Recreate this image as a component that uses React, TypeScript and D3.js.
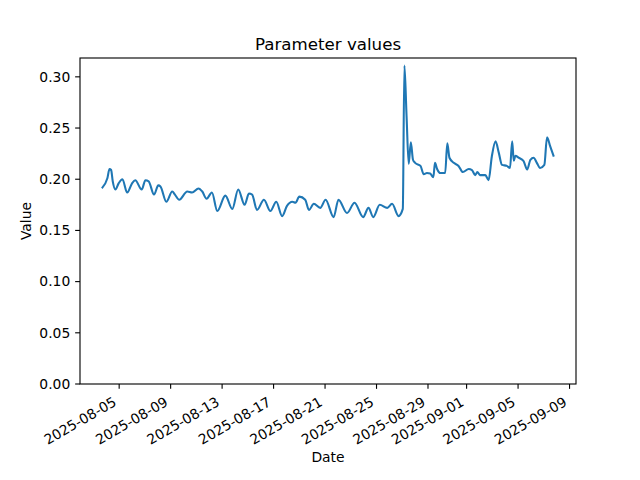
import React from 'react';
import * as d3 from 'd3';

const times: string[] = [
  '2025-08-03T17:00', '2025-08-04T02:00', '2025-08-04T06:00', '2025-08-04T09:00', '2025-08-04T12:00',
  '2025-08-04T17:00', '2025-08-04T23:00', '2025-08-05T06:00', '2025-08-05T15:00', '2025-08-06T00:00',
  '2025-08-06T06:00', '2025-08-06T18:00', '2025-08-07T01:00', '2025-08-07T07:00', '2025-08-07T17:00',
  '2025-08-08T01:00', '2025-08-08T05:00', '2025-08-08T16:00', '2025-08-09T03:00', '2025-08-09T08:00',
  '2025-08-09T16:00', '2025-08-10T07:00', '2025-08-10T16:00', '2025-08-11T04:00', '2025-08-11T11:00',
  '2025-08-11T19:00', '2025-08-12T05:00', '2025-08-12T15:00', '2025-08-13T06:00', '2025-08-13T19:00',
  '2025-08-14T06:00', '2025-08-14T18:00', '2025-08-15T02:00', '2025-08-15T08:00', '2025-08-15T17:00',
  '2025-08-16T06:00', '2025-08-16T18:00', '2025-08-17T05:00', '2025-08-17T16:00', '2025-08-18T01:00',
  '2025-08-18T11:00', '2025-08-18T17:00', '2025-08-19T00:00', '2025-08-19T11:00', '2025-08-19T18:00',
  '2025-08-20T03:00', '2025-08-20T15:00', '2025-08-21T01:00', '2025-08-21T16:00', '2025-08-22T01:00',
  '2025-08-22T17:00', '2025-08-23T07:00', '2025-08-23T23:00', '2025-08-24T09:00', '2025-08-24T18:00',
  '2025-08-25T06:00', '2025-08-25T20:00', '2025-08-26T05:00', '2025-08-26T17:00', '2025-08-27T01:00',
  '2025-08-27T04:00', '2025-08-27T08:00', '2025-08-27T12:00', '2025-08-27T16:00', '2025-08-27T20:00',
  '2025-08-28T00:00', '2025-08-28T10:00', '2025-08-28T16:00', '2025-08-28T22:00', '2025-08-29T04:00',
  '2025-08-29T10:00', '2025-08-29T13:00', '2025-08-29T17:00', '2025-08-29T23:00', '2025-08-30T08:00',
  '2025-08-30T12:00', '2025-08-30T16:00', '2025-08-31T00:00', '2025-08-31T09:00', '2025-08-31T17:00',
  '2025-09-01T04:00', '2025-09-01T10:00', '2025-09-01T16:00', '2025-09-01T20:00', '2025-09-02T01:00',
  '2025-09-02T11:00', '2025-09-02T17:00', '2025-09-02T23:00', '2025-09-03T06:00', '2025-09-03T12:00',
  '2025-09-03T18:00', '2025-09-04T03:00', '2025-09-04T09:00', '2025-09-04T13:00', '2025-09-04T16:00',
  '2025-09-04T19:00', '2025-09-05T01:00', '2025-09-05T10:00', '2025-09-05T17:00', '2025-09-05T23:00',
  '2025-09-06T05:00', '2025-09-06T11:00', '2025-09-06T17:00', '2025-09-07T01:00', '2025-09-07T06:00',
  '2025-09-07T12:00', '2025-09-07T18:00',
];

const values: number[] = [
  0.192, 0.201, 0.210, 0.209, 0.198,
  0.190, 0.196, 0.200, 0.187, 0.196,
  0.199, 0.190, 0.199, 0.198, 0.185,
  0.194, 0.193, 0.178, 0.188, 0.185,
  0.180, 0.188, 0.187, 0.191, 0.188,
  0.181, 0.187, 0.169, 0.184, 0.171,
  0.190, 0.175, 0.186, 0.185, 0.170,
  0.180, 0.169, 0.178, 0.164, 0.174,
  0.178, 0.177, 0.183, 0.180, 0.170,
  0.176, 0.172, 0.180, 0.163, 0.180,
  0.167, 0.177, 0.163, 0.172, 0.163,
  0.175, 0.172, 0.176, 0.164, 0.171,
  0.311, 0.262, 0.215, 0.236, 0.219,
  0.216, 0.213, 0.205, 0.206, 0.2055,
  0.202, 0.216, 0.210, 0.206, 0.206,
  0.235, 0.221, 0.216, 0.213, 0.207,
  0.210, 0.209, 0.204, 0.207, 0.204,
  0.204, 0.199, 0.222, 0.237, 0.226,
  0.214, 0.213, 0.211, 0.237, 0.218,
  0.223, 0.221, 0.218, 0.2095, 0.219,
  0.221, 0.216, 0.211, 0.214, 0.241,
  0.232, 0.223,
];

const xTickLabels: string[] = [
  '2025-08-05', '2025-08-09', '2025-08-13', '2025-08-17', '2025-08-21',
  '2025-08-25', '2025-08-29', '2025-09-01', '2025-09-05', '2025-09-09',
];

const yTickValues: number[] = [0, 0.05, 0.1, 0.15, 0.2, 0.25, 0.3];

const FONT = '"DejaVu Sans", sans-serif';

export default function App() {
  const W = 640, H = 480;
  const left = 80, right = 576, top = 58, bottom = 384;
  const parse = d3.utcParse('%Y-%m-%dT%H:%M');
  const parseDay = d3.utcParse('%Y-%m-%d');
  const data = times.map((t, i) => ({ d: parse(t) as Date, v: values[i] }));
  const [t0, t1] = d3.extent(data, (p) => p.d.getTime()) as [number, number];
  const pad = (t1 - t0) * 0.05;
  const x = d3.scaleUtc().domain([new Date(t0 - pad), new Date(t1 + pad)]).range([left, right]);
  const [vmin, vmax] = d3.extent(values) as [number, number];
  const y = d3.scaleLinear().domain([0, vmax + 0.05 * (vmax - vmin)]).range([bottom, top]);

  const line = d3.line<{ d: Date; v: number }>()
    .x((p) => x(p.d))
    .y((p) => y(p.v))
    .curve(d3.curveMonotoneX);
  const tickLen = 4.86;
  const fs = 13.89;

  return (
    <svg width={W} height={H} style={{ position: 'absolute', left: 0, top: 0, background: '#fff' }}
      fontFamily={FONT}>
      <rect x={0} y={0} width={W} height={H} fill="#fff" />
      <path d={line(data) || ''} fill="none" stroke="#1f77b4" strokeWidth={2.08}
        strokeLinejoin="round" strokeLinecap="square" />
      <rect x={left} y={top} width={right - left} height={bottom - top} fill="none"
        stroke="#000" strokeWidth={1.11} />
      {yTickValues.map((v) => (
        <g key={v}>
          <line x1={left - tickLen} x2={left} y1={y(v)} y2={y(v)} stroke="#000" strokeWidth={1.11} />
          <text x={left - tickLen - 4.86} y={y(v)} dy="0.35em" textAnchor="end" fontSize={fs} fill="#000">
            {d3.format('.2f')(v)}
          </text>
        </g>
      ))}
      {xTickLabels.map((lab) => {
        const tx = x(parseDay(lab) as Date);
        const ty = bottom + tickLen + 4.86;
        const h = 16;
        return (
          <g key={lab}>
            <line x1={tx} x2={tx} y1={bottom} y2={bottom + tickLen} stroke="#000" strokeWidth={1.11} />
            <text transform={`translate(${tx},${ty + 0.866 * h}) rotate(-30)`} dy={-3.3}
              textAnchor="end" fontSize={fs} fill="#000">
              {lab}
            </text>
          </g>
        );
      })}
      <text x={(left + right) / 2} y={49.5} textAnchor="middle" fontSize={16.67} fill="#000">
        Parameter values
      </text>
      <text x={(left + right) / 2} y={462} textAnchor="middle" fontSize={fs} fill="#000">
        Date
      </text>
      <text transform={`translate(31,${(top + bottom) / 2}) rotate(-90)`} textAnchor="middle"
        fontSize={fs} fill="#000">
        Value
      </text>
    </svg>
  );
}
